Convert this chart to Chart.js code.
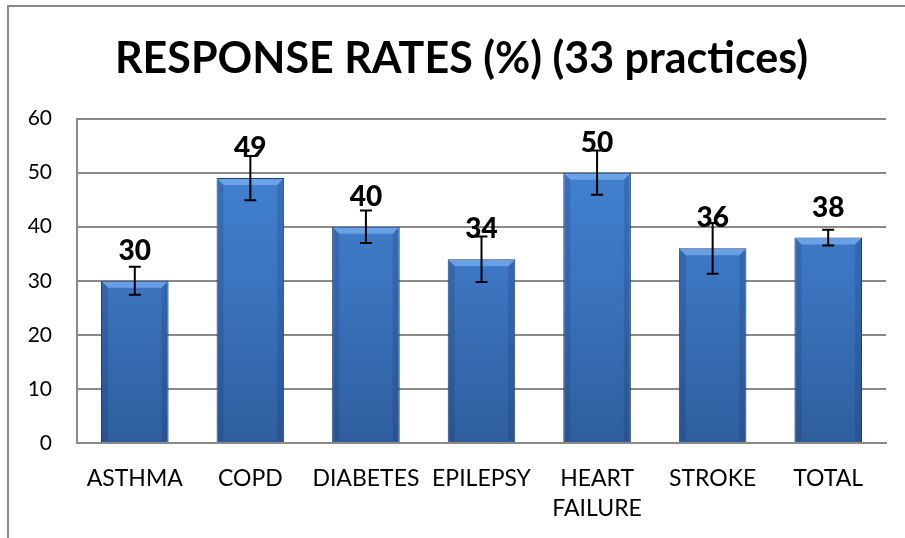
<!DOCTYPE html>
<html lang="en">
<head>
    <meta charset="UTF-8">
    <title>Response Rates</title>
    <script src="https://cdn.jsdelivr.net/npm/chart.js"></script>
    <style>
        html, body {
            margin: 0;
            padding: 0;
            width: 905px;
            height: 538px;
            overflow: hidden;
            background: #ffffff;
        }
        #frame {
            position: absolute;
            left: 7px;
            top: 5px;
            width: 1000px;
            height: 1000px;
            border-left: 2px solid #8a8a8a;
            border-top: 2px solid #8a8a8a;
        }
        #wrap {
            position: absolute;
            left: 0;
            top: 0;
            width: 905px;
            height: 538px;
        }
    </style>
</head>
<body>
    <div id="frame"></div>
    <div id="wrap"><canvas id="chart"></canvas></div>

    <script>
        // values
        const categories = ['ASTHMA', 'COPD', 'DIABETES', 'EPILEPSY', ['HEART', 'FAILURE'], 'STROKE', 'TOTAL'];
        const rates = [30, 49, 40, 34, 50, 36, 38];
        const errors = [2.6, 4.1, 3.0, 4.2, 4.1, 4.7, 1.45];
        const yTicks = [0, 10, 20, 30, 40, 50, 60];

        const FONT = 'Lato, "Open Sans", sans-serif';

        function barGradient(context) {
            const area = context.chart.chartArea;
            if (!area) return '#3c78c6';
            const g = context.chart.ctx.createLinearGradient(0, area.top, 0, area.bottom);
            g.addColorStop(0, '#4586d6');
            g.addColorStop(0.5, '#3b74c0');
            g.addColorStop(1, '#2f5e9e');
            return g;
        }

        // bevel look on the bars, value labels and error bars
        const decorations = {
            id: 'decorations',
            afterDatasetsDraw(chart) {
                const ctx = chart.ctx;
                const meta = chart.getDatasetMeta(0);
                const yScale = chart.scales.y;
                ctx.save();
                meta.data.forEach((bar, i) => {
                    const left = bar.x - bar.width / 2;
                    const right = bar.x + bar.width / 2;
                    const top = bar.y;
                    const bottom = bar.base;
                    const d = 7;
                    // top bevel
                    ctx.fillStyle = 'rgba(120,175,240,0.75)';
                    ctx.beginPath();
                    ctx.moveTo(left + 1, top + 1);
                    ctx.lineTo(right - 1, top + 1);
                    ctx.lineTo(right - d, top + d);
                    ctx.lineTo(left + d, top + d);
                    ctx.closePath();
                    ctx.fill();
                    // side shading
                    ctx.fillStyle = 'rgba(10,30,70,0.16)';
                    ctx.beginPath();
                    ctx.moveTo(left + 1, top + 1);
                    ctx.lineTo(left + d, top + d);
                    ctx.lineTo(left + d, bottom - 1);
                    ctx.lineTo(left + 1, bottom - 1);
                    ctx.closePath();
                    ctx.fill();
                    ctx.beginPath();
                    ctx.moveTo(right - 1, top + 1);
                    ctx.lineTo(right - d, top + d);
                    ctx.lineTo(right - d, bottom - 1);
                    ctx.lineTo(right - 1, bottom - 1);
                    ctx.closePath();
                    ctx.fill();

                    // value label
                    ctx.fillStyle = '#000000';
                    ctx.font = '900 28px ' + FONT;
                    ctx.textAlign = 'center';
                    ctx.textBaseline = 'middle';
                    ctx.fillText(String(rates[i]), bar.x, top - 30);
                });

                // error bars
                ctx.strokeStyle = '#000000';
                ctx.lineWidth = 2;
                meta.data.forEach((bar, i) => {
                    const yHi = yScale.getPixelForValue(rates[i] + errors[i]);
                    const yLo = yScale.getPixelForValue(rates[i] - errors[i]);
                    ctx.beginPath();
                    ctx.moveTo(bar.x, yHi);
                    ctx.lineTo(bar.x, yLo);
                    ctx.moveTo(bar.x - 6, yHi);
                    ctx.lineTo(bar.x + 6, yHi);
                    ctx.moveTo(bar.x - 6, yLo);
                    ctx.lineTo(bar.x + 6, yLo);
                    ctx.stroke();
                });
                ctx.restore();
            }
        };

        const chart = new Chart(document.getElementById('chart'), {
            type: 'bar',
            data: {
                labels: categories,
                datasets: [{
                    data: rates,
                    backgroundColor: barGradient,
                    borderColor: '#1f3f70',
                    borderWidth: 1,
                    barPercentage: 0.585,
                    categoryPercentage: 1
                }]
            },
            options: {
                responsive: true,
                maintainAspectRatio: false,
                animation: false,
                layout: { padding: { left: 18, right: 0, top: 0, bottom: 0 } },
                plugins: {
                    legend: { display: false },
                    tooltip: { enabled: false },
                    title: {
                        display: true,
                        text: 'RESPONSE RATES (%) (33 practices)',
                        color: '#000000',
                        font: { family: FONT, size: 43, weight: 'bold', lineHeight: 1.2 },
                        padding: { top: 33, bottom: 34 }
                    }
                },
                scales: {
                    x: {
                        grid: { display: false, drawTicks: false },
                        border: { display: true, color: '#8a8a8a', width: 2 },
                        ticks: {
                            color: '#000000',
                            font: { family: FONT, size: 23, lineHeight: 1.32 },
                            padding: 20,
                            maxRotation: 0,
                            autoSkip: false
                        },
                        afterFit(scale) { scale.height = 95; }
                    },
                    y: {
                        min: 0,
                        max: 60,
                        afterBuildTicks(scale) {
                            scale.ticks = yTicks.map(v => ({ value: v }));
                        },
                        grid: { color: '#8a8a8a', lineWidth: 2, drawTicks: false },
                        border: { display: true, color: '#8a8a8a', width: 2 },
                        ticks: {
                            color: '#000000',
                            font: { family: FONT, size: 21 },
                            padding: 25
                        },
                        afterFit(scale) { scale.width = 59; }
                    },
                    // empty right margin so the title stays centred on the frame
                    yRight: {
                        position: 'right',
                        grid: { display: false, drawTicks: false },
                        border: { display: false },
                        ticks: { display: false },
                        afterFit(scale) { scale.width = 19; }
                    }
                }
            },
            plugins: [decorations]
        });
    </script>
</body>
</html>
